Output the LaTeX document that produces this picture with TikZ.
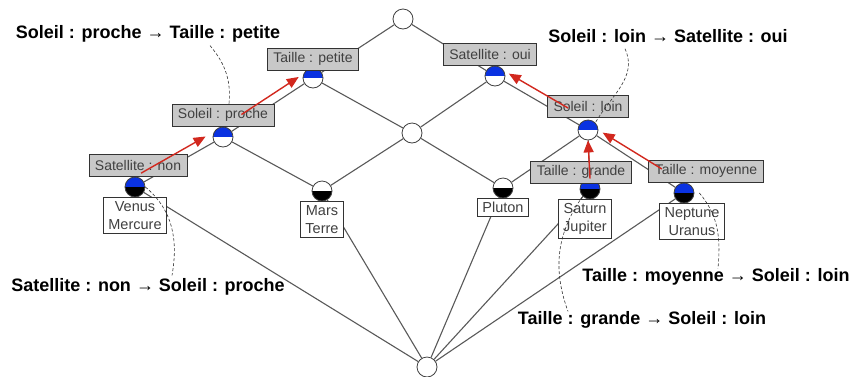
\documentclass[tikz,border=0pt]{standalone}
\usepackage{fontspec}
\setmainfont{Liberation Sans}
\usetikzlibrary{arrows.meta,positioning,backgrounds}

\definecolor{cblue}{RGB}{10,50,225}
\definecolor{cgray}{RGB}{200,200,200}
\definecolor{arrred}{RGB}{210,40,30}

\tikzset{
  concept/.style={circle, draw=black!75, fill=white, minimum size=20pt, inner sep=0pt, line width=0.8pt},
  intent/.style={path picture={\fill[cblue] (path picture bounding box.north west) rectangle (path picture bounding box.east);}},
  extent/.style={path picture={\fill[black] (path picture bounding box.west) rectangle (path picture bounding box.south east);}},
  intext/.style={path picture={\fill[cblue] (path picture bounding box.north west) rectangle (path picture bounding box.east);
                               \fill[black] (path picture bounding box.west) rectangle (path picture bounding box.south east);}},
  attr/.style={draw=black!80, fill=cgray, text=black!75, font=\fontsize{14}{16}\selectfont, inner xsep=6pt, inner ysep=0pt, minimum height=22pt, line width=0.8pt},
  obj/.style={draw=black!80, fill=white, text=black!75, align=center, font=\fontsize{14.5}{18}\selectfont, inner xsep=5pt, inner ysep=3.5pt, line width=0.8pt},
  link/.style={draw=black!65, line width=1.1pt},
  flow/.style={draw=arrred, line width=1.4pt, -{Triangle[length=12pt,width=10pt]}},
  rule/.style={font=\bfseries\fontsize{18}{20}\selectfont, inner sep=0pt},
  note/.style={densely dashed, line width=0.6pt, black!80}
}

\begin{document}
\begin{tikzpicture}[x=1pt, y=-1pt]
            \useasboundingbox (0,0) rectangle (860,376);

            % concepts of the lattice
            \node[concept] (top) at (403,19) {};
            \node[concept, intent] (cp) at (313,78) {};
            \node[concept, intent] (co) at (495,76) {};
            \node[concept] (mid) at (412,133) {};
            \node[concept, intent] (cpr) at (223,137) {};
            \node[concept, intent] (cl) at (588,130) {};
            \node[concept, intext] (cn) at (135,187) {};
            \node[concept, extent] (cm) at (322,191) {};
            \node[concept, extent] (cpl) at (503,188) {};
            \node[concept, intext] (cs) at (590,189) {};
            \node[concept, intext] (cne) at (684,193) {};
            \node[concept] (bot) at (427,367) {};

            % attributes
            \node[attr] (lp) [above=-3pt of cp] {Taille : petite};
            \node[attr] (lo) [above=0pt of co, xshift=-5pt] {Satellite : oui};
            \node[attr] (lpr) [above=0pt of cpr] {Soleil : proche};
            \node[attr] (ll) [above=2pt of cl] {Soleil : loin};
            \node[attr] (ln) [above=0pt of cn, xshift=3pt] {Satellite : non};
            \node[attr] (lg) [above=-5pt of cs, xshift=-9pt] {Taille : grande};
            \node[attr] (lm) [above=0pt of cne, xshift=22pt] {Taille : moyenne};

            % objects
            \node[obj] (ov) [below=0pt of cn] {Venus\\Mercure};
            \node[obj] (om) [below=0pt of cm] {Mars\\Terre};
            \node[obj] (opl) [below=0pt of cpl] {Pluton};
            \node[obj] (os) [below=0pt of cs, xshift=-5pt] {Saturn\\Jupiter};
            \node[obj] (one) [below=0pt of cne, xshift=8pt] {Neptune\\Uranus};

            \begin{pgfonlayer}{background}
            \draw[link] (top) -- (cp);
            \draw[link] (top) -- (co);
            \draw[link] (cp) -- (cpr);
            \draw[link] (cp) -- (mid);
            \draw[link] (co) -- (mid);
            \draw[link] (co) -- (cl);
            \draw[link] (cpr) -- (cn);
            \draw[link] (cpr) -- (cm);
            \draw[link] (mid) -- (cm);
            \draw[link] (mid) -- (cpl);
            \draw[link] (cl) -- (cpl);
            \draw[link] (cl) -- (cs);
            \draw[link] (cl) -- (cne);
            \draw[link] (bot) -- (cn);
            \draw[link] (bot) -- (cm);
            \draw[link] (bot) -- (cpl);
            \draw[link] (bot) -- (cs);
            \draw[link] (bot) -- (cne);
            \end{pgfonlayer}

            % implications
            \draw[flow, shorten <=7pt, shorten >=20pt] (cn.north) -- (cpr.north);
            \draw[flow, shorten <=22pt, shorten >=17pt] (cpr.north) -- (cp.north);
            \draw[flow, shorten <=23pt, shorten >=16pt] (cl.north) -- (co.north);
            \draw[flow] (cs.north) -- (cl.south);
            \draw[flow, shorten <=26pt, shorten >=5pt] (cne.north) -- (cl.east);

            % rules
            \node[rule] (r1) at (148,34) {Soleil : proche → Taille : petite};
            \node[rule] (r2) at (668,36) {Soleil : loin → Satellite : oui};
            \node[rule] (r3) at (148,287) {Satellite : non → Soleil : proche};
            \node[rule] (r4) at (716,277) {Taille : moyenne → Soleil : loin};
            \node[rule] (r5) at (642,320) {Taille : grande → Soleil : loin};

            \draw[note] ([xshift=62pt,yshift=-3pt]r1.south) to[out=-50,in=85] ([xshift=6pt]lpr.north);
            \draw[note] ([xshift=-43pt,yshift=-6pt]r2.south) to[out=-65,in=60] (cl.north east);
            \draw[note] (cn.east) to[out=-40,in=80] ([xshift=24pt,yshift=3pt]r3.north);
            \draw[note] ([xshift=5pt]cne.east) to[out=-50,in=85] ([xshift=2pt]r4.north);
            \draw[note] (cs.south west) to[out=-125,in=110] ([xshift=-74pt]r5.north);
\end{tikzpicture}
\end{document}
